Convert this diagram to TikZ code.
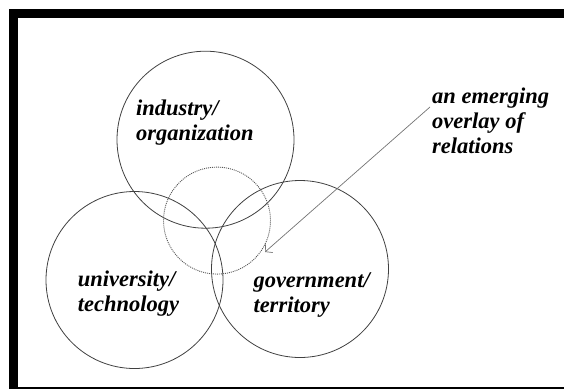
\documentclass[tikz,border=0pt]{standalone}
\usepackage{fontspec}
\setmainfont{Liberation Serif}
\usepackage{tikz}
\usetikzlibrary{arrows.meta}
\tikzstyle{helix} = [draw=black!75, line width=0.8pt, circle, minimum size=177pt, inner sep=0pt]
\tikzstyle{core} = [draw=black!65, dash pattern=on 1pt off 1pt, line width=0.9pt, circle, minimum size=107pt, inner sep=0pt]
\tikzstyle{sector} = [anchor=west, align=left, inner sep=0pt, font=\fontsize{22.5}{25}\selectfont\bfseries\itshape]
\tikzstyle{pointer} = [draw=black!55, line width=0.7pt, -{Straight Barb[length=5pt,width=11pt]}]

\begin{document}
\begin{tikzpicture}[x=1pt,y=-1pt]
			\useasboundingbox (0,0) rectangle (564,389);
			\fill (9,9) rectangle (18,389);
			\fill (9,9) rectangle (564,18);
			\fill (9,387) rectangle (564,389);
			\node[helix] (ind) at (205.5,139.7) {};
			\node[helix] (uni) at (134.5,280) {};
			\node[helix] (gov) at (300,269) {};
			\node[core] (rel) at (217,220.6) {};
			\node[sector] (indtxt) at (136,122.5) {industry/\\organization};
			\node[sector] (unitxt) at (77.7,294) {university/\\technology};
			\node[sector] (govtxt) at (253.3,295.5) {government/\\territory};
			\node[sector] (reltxt) at (432,120.5) {an emerging\\overlay of\\relations};
			\coordinate (tail) at (430,107);
			\coordinate (tip) at (265,252);
			\draw[pointer] (tail) -- (tip);
		\end{tikzpicture}
\end{document}
